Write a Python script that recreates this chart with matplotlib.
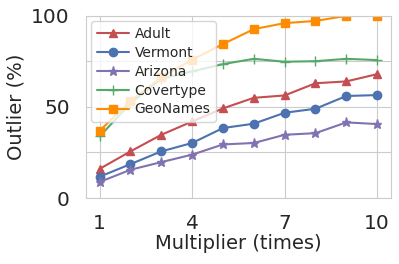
import numpy as np
import matplotlib
matplotlib.use("Agg")
import matplotlib.pyplot as plt
import seaborn as sns

sns.set_style("whitegrid")
plt.rcParams['font.family'] = ['DejaVu Sans']

multiplier = [1, 2, 3, 4, 5, 6, 7, 8, 9, 10]
adult = [16, 25.6, 34.7, 42, 49.2, 55, 56.3, 63, 64, 68]
vermont = [11.7, 18.6, 25.6, 30.2, 38.4, 40.8, 46.8, 49, 56, 56.5]
arizona = [8.8, 15.5, 19.7, 23.8, 29.4, 30.2, 34.7, 35.6, 41.5, 40.6]
covertype = [33.8, 52, 65.5, 69.5, 73.5, 76.4, 74.8, 75.1, 76.4, 75.7]
geonames = [36.9, 53.3, 66.2, 75.9, 84.5, 92.7, 96, 97.2, 100, 100]

fig, ax = plt.subplots(figsize=(3.99, 2.64), dpi=100)
ax.plot(multiplier, adult, marker='^', color='#C44E52', label='Adult', markersize=6)
ax.plot(multiplier, vermont, marker='o', color='#4C72B0', label='Vermont', markersize=6)
ax.plot(multiplier, arizona, marker='*', color='#8172B2', label='Arizona', markersize=6.5)
ax.plot(multiplier, covertype, marker='+', color='#55A868', label='Covertype', markersize=7)
ax.plot(multiplier, geonames, marker='s', color='darkorange', label='GeoNames', markersize=6)

ax.set_ylim(0, 100)
ax.set_yticks([0, 25, 50, 75, 100])
ax.set_yticklabels(['0', '', '50', '', '100'])
ax.set_xticks([1, 4, 7, 10])
ax.tick_params(labelsize=14.5, pad=8)
ax.set_xlabel("Multiplier (times)", fontsize=14, labelpad=1)
ax.set_ylabel("Outlier (%)", fontsize=14, labelpad=4)
ax.legend(loc='upper left', fontsize=10, handlelength=2.3, handletextpad=0.4,
          borderpad=0.4, labelspacing=0.35, borderaxespad=0.4)

plt.subplots_adjust(left=0.215, right=0.98, bottom=0.25, top=0.94)
plt.savefig("out.png")
